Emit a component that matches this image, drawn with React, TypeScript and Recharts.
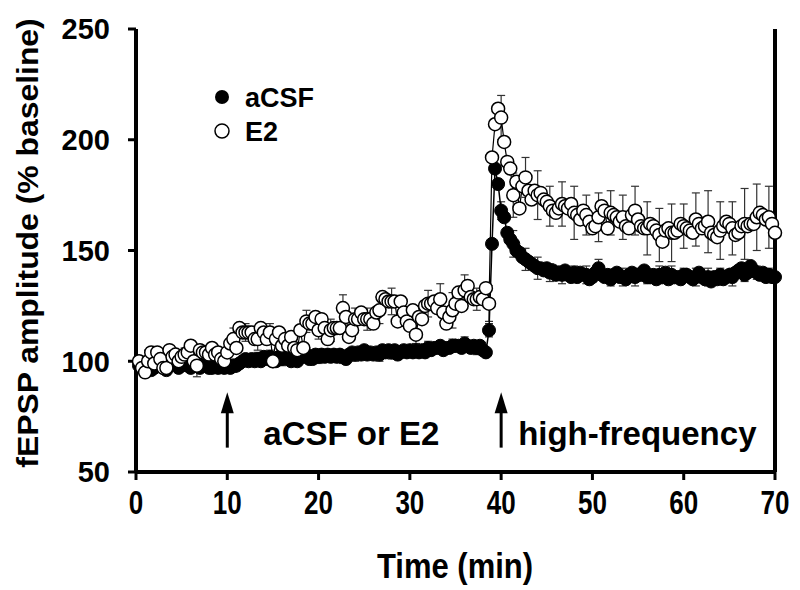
import React from 'react';
import {
  ScatterChart,
  Scatter,
  XAxis,
  YAxis,
  ErrorBar,
  ReferenceLine,
} from 'recharts';

// sampling times (min), 3 sweeps per minute
const times = [
  0.33, 0.67, 1, 1.33, 1.67, 2, 2.33, 2.67, 3, 3.33, 3.67, 4, 4.33, 4.67, 5,
  5.33, 5.67, 6, 6.33, 6.67, 7, 7.33, 7.67, 8, 8.33, 8.67, 9, 9.33, 9.67, 10,
  10.33, 10.67, 11, 11.33, 11.67, 12, 12.33, 12.67, 13, 13.33, 13.67, 14, 14.33, 14.67, 15,
  15.33, 15.67, 16, 16.33, 16.67, 17, 17.33, 17.67, 18, 18.33, 18.67, 19, 19.33, 19.67, 20,
  20.33, 20.67, 21, 21.33, 21.67, 22, 22.33, 22.67, 23, 23.33, 23.67, 24, 24.33, 24.67, 25,
  25.33, 25.67, 26, 26.33, 26.67, 27, 27.33, 27.67, 28, 28.33, 28.67, 29, 29.33, 29.67, 30,
  30.33, 30.67, 31, 31.33, 31.67, 32, 32.33, 32.67, 33, 33.33, 33.67, 34, 34.33, 34.67, 35,
  35.33, 35.67, 36, 36.33, 36.67, 37, 37.33, 37.67, 38, 38.33, 38.67, 39, 39.33, 39.67, 40,
  40.33, 40.67, 41, 41.33, 41.67, 42, 42.33, 42.67, 43, 43.33, 43.67, 44, 44.33, 44.67, 45,
  45.33, 45.67, 46, 46.33, 46.67, 47, 47.33, 47.67, 48, 48.33, 48.67, 49, 49.33, 49.67, 50,
  50.33, 50.67, 51, 51.33, 51.67, 52, 52.33, 52.67, 53, 53.33, 53.67, 54, 54.33, 54.67, 55,
  55.33, 55.67, 56, 56.33, 56.67, 57, 57.33, 57.67, 58, 58.33, 58.67, 59, 59.33, 59.67, 60,
  60.33, 60.67, 61, 61.33, 61.67, 62, 62.33, 62.67, 63, 63.33, 63.67, 64, 64.33, 64.67, 65,
  65.33, 65.67, 66, 66.33, 66.67, 67, 67.33, 67.67, 68, 68.33, 68.67, 69, 69.33, 69.67, 70,
];

// fEPSP amplitude, % baseline
const acsfValues = [
  98, 97, 99, 98, 96, 97, 99, 98, 97, 96, 98, 99, 99, 97, 98,
  99, 98, 97, 98, 99, 97, 98, 99, 97, 97, 98, 97, 98, 97, 98,
  97, 98, 98, 99, 100, 101, 100, 101, 100, 101, 100, 102, 101, 102, 100,
  100, 102, 101, 102, 101, 100, 101, 100, 102, 102, 103, 101, 101, 103, 102,
  103, 102, 103, 102, 103, 102, 103, 102, 101, 103, 104, 103, 104, 103, 105,
  103, 104, 103, 104, 103, 105, 104, 105, 104, 105, 103, 104, 105, 104, 105,
  104, 105, 104, 105, 104, 106, 105, 106, 106, 107, 105, 106, 106, 107, 107,
  107, 106, 108, 107, 106, 107, 106, 107, 105, 104, 114, 153, 187, 180, 168,
  165, 158, 155, 153, 150, 149, 147, 146, 145, 144, 143, 142, 142, 141, 142,
  140, 141, 139, 140, 139, 141, 139, 138, 140, 138, 140, 139, 139, 137, 138,
  140, 142, 139, 138, 139, 137, 139, 140, 138, 138, 137, 139, 140, 138, 139,
  139, 141, 138, 138, 139, 137, 139, 138, 140, 137, 139, 138, 138, 137, 139,
  139, 138, 137, 138, 140, 138, 137, 138, 136, 138, 137, 139, 137, 138, 139,
  138, 140, 141, 142, 139, 140, 143, 141, 140, 139, 140, 138, 139, 138, 138,
];

const e2Values = [
  100, 97, 95, 100, 104, 99, 104, 101, 97, 97, 105, 102, 103, 100, 102,
  103, 104, 107, 100, 98, 105, 104, 104, 103, 106, 103, 104, 101, 100, 104,
  108, 110, 106, 115, 113, 113, 113, 113, 110, 110, 115, 113, 110, 113, 100,
  110, 113, 107, 110, 107, 111, 106, 105, 114, 106, 118, 117, 117, 120, 114,
  119, 115, 110, 114, 115, 115, 115, 124, 120, 111, 114, 119, 119, 122, 119,
  119, 119, 117, 122, 123, 129, 128, 127, 127, 127, 118, 127, 122, 118, 116,
  123, 112, 120, 119, 125, 126, 126, 127, 124, 128, 122, 117, 120, 123, 126,
  131, 125, 132, 134, 129, 128, 128, 129, 128, 133, 126, 192, 207, 214, 210,
  199, 190, 187, 175, 181, 169, 179, 183, 177, 173, 177, 175, 176, 173, 172,
  170, 168, 167, 169, 171, 170, 169, 171, 167, 166, 164, 168, 166, 163, 160,
  161, 165, 170, 168, 160, 167, 166, 165, 163, 165, 161, 160, 166, 168, 164,
  161, 160, 160, 162, 161, 159, 157, 154, 159, 160, 158, 158, 159, 162, 161,
  160, 159, 158, 164, 162, 160, 161, 163, 158, 157, 156, 159, 161, 163, 162,
  160, 157, 158, 161, 162, 161, 162, 162, 165, 167, 166, 164, 165, 162, 158,
];

// SEM, drawn on every 4th sweep
const SEM_STEP = 4;
const acsfSem = [
  3, 3, 2, 3, 3, 2, 3, 3, 2, 3, 3, 3, 2,
  3, 3, 2, 3, 3, 2, 3, 3, 2, 3, 3, 2, 3,
  3, 3, 3, 4, 6, 5, 5, 4, 4, 3, 4, 4, 3,
  4, 4, 3, 4, 4, 3, 4, 4, 3, 4, 3, 3, 3,
];
const e2Sem = [
  5, 4, 4, 3, 5, 4, 4, 5, 4, 5, 4, 6, 5,
  5, 4, 5, 6, 5, 5, 6, 6, 5, 9, 6, 7, 8,
  7, 5, 8, 10, 10, 9, 11, 9, 10, 12, 9, 11, 10,
  10, 11, 12, 12, 13, 10, 12, 14, 13, 12, 16, 15, 14,
];

const xTicks = [0, 10, 20, 30, 40, 50, 60, 70];
const yTicks = [50, 100, 150, 200, 250];

// arrows: time of application, label
const arrowTimes = [10, 40];
const arrowLabels = ['aCSF or E2', 'high-frequency'];
const arrowLabelDx = [36, 17];

const FONT = '"Liberation Sans", Arial, sans-serif';

const build = (vals: number[], sem: number[]) =>
  times.map((t, i) => ({
    t,
    v: vals[i],
    err: i % SEM_STEP === SEM_STEP - 1 ? sem[(i - (SEM_STEP - 1)) / SEM_STEP] ?? 0 : 0,
  }));

const acsfData = build(acsfValues, acsfSem);
const e2Data = build(e2Values, e2Sem);

const XTick = (props: any) => {
  const { x, payload } = props;
  return (
    <text
      transform={`translate(${x},514) scale(1,1.28)`}
      textAnchor="middle"
      fontSize={26}
      fontWeight={700}
      fontFamily={FONT}
      fill="#000"
    >
      {payload.value}
    </text>
  );
};

const makeArrow = (label: string, dx: number) => (props: any) => {
  const { x1, y1, y2 } = props;
  const top = Math.min(y1, y2);
  const bottom = Math.max(y1, y2);
  return (
    <g>
      <line x1={x1} y1={bottom} x2={x1} y2={top + 10} stroke="#000" strokeWidth={3} />
      <polygon points={`${x1},${top} ${x1 - 6.5},${top + 21} ${x1 + 6.5},${top + 21}`} fill="#000" />
      <text x={x1 + dx} y={445} fontSize={33} fontWeight={700} fontFamily={FONT} fill="#000">
        {label}
      </text>
    </g>
  );
};

const filledDot = (p: any) => (
  <circle cx={p.cx} cy={p.cy} r={6.5} fill="#000" stroke="#000" strokeWidth={1} />
);
const openDot = (p: any) => (
  <circle cx={p.cx} cy={p.cy} r={6.5} fill="#fff" stroke="#000" strokeWidth={1.5} />
);

const App: React.FC = () => {
  return (
    <div style={{ position: 'absolute', left: 0, top: 0, width: 800, height: 590, background: '#fff', fontFamily: FONT }}>
      <ScatterChart width={800} height={590} margin={{ top: 29, right: 25, bottom: 0, left: 20 }}>
        <XAxis
          type="number"
          dataKey="t"
          domain={[0, 70]}
          ticks={xTicks}
          height={118}
          tickSize={8}
          axisLine={{ stroke: '#000', strokeWidth: 4 }}
          tickLine={{ stroke: '#000', strokeWidth: 3 }}
          tick={<XTick />}
        />
        <YAxis
          type="number"
          dataKey="v"
          domain={[50, 250]}
          ticks={yTicks}
          width={116}
          tickSize={8}
          tickMargin={18}
          axisLine={{ stroke: '#000', strokeWidth: 4 }}
          tickLine={{ stroke: '#000', strokeWidth: 3 }}
          tick={{ fontSize: 29, fontWeight: 700, fill: '#000', fontFamily: FONT }}
        />
        <ReferenceLine x={70} stroke="#000" strokeWidth={4} />
        {arrowTimes.map((t, i) => (
          <ReferenceLine
            key={t}
            segment={[{ x: t, y: 61 }, { x: t, y: 86 }]}
            shape={makeArrow(arrowLabels[i], arrowLabelDx[i])}
          />
        ))}
        <Scatter
          name="aCSF"
          data={acsfData}
          line={{ stroke: '#000', strokeWidth: 1.5 }}
          lineType="joint"
          shape={filledDot}
          isAnimationActive={false}
        >
          <ErrorBar dataKey="err" direction="y" width={4} stroke="#333" strokeWidth={1.2} />
        </Scatter>
        <Scatter
          name="E2"
          data={e2Data}
          line={{ stroke: '#000', strokeWidth: 1.2 }}
          lineType="joint"
          shape={openDot}
          isAnimationActive={false}
        >
          <ErrorBar dataKey="err" direction="y" width={4} stroke="#333" strokeWidth={1.2} />
        </Scatter>

        {/* legend */}
        <circle cx={222} cy={97} r={7} fill="#000" />
        <text x={245} y={107} fontSize={27} fontWeight={700} fontFamily={FONT} fill="#000">aCSF</text>
        <circle cx={222} cy={131} r={7} fill="#fff" stroke="#000" strokeWidth={1.5} />
        <text x={245} y={141} fontSize={27} fontWeight={700} fontFamily={FONT} fill="#000">E2</text>

        {/* axis titles */}
        <text
          transform="translate(38,243) rotate(-90) scale(1.1,1)"
          textAnchor="middle"
          fontSize={29}
          fontWeight={700}
          fontFamily={FONT}
          fill="#000"
        >
          fEPSP amplitude (% baseline)
        </text>
        <text
          transform="translate(455,578) scale(1,1.15)"
          textAnchor="middle"
          fontSize={31}
          fontWeight={700}
          fontFamily={FONT}
          fill="#000"
        >
          Time (min)
        </text>
      </ScatterChart>
    </div>
  );
};

export default App;
